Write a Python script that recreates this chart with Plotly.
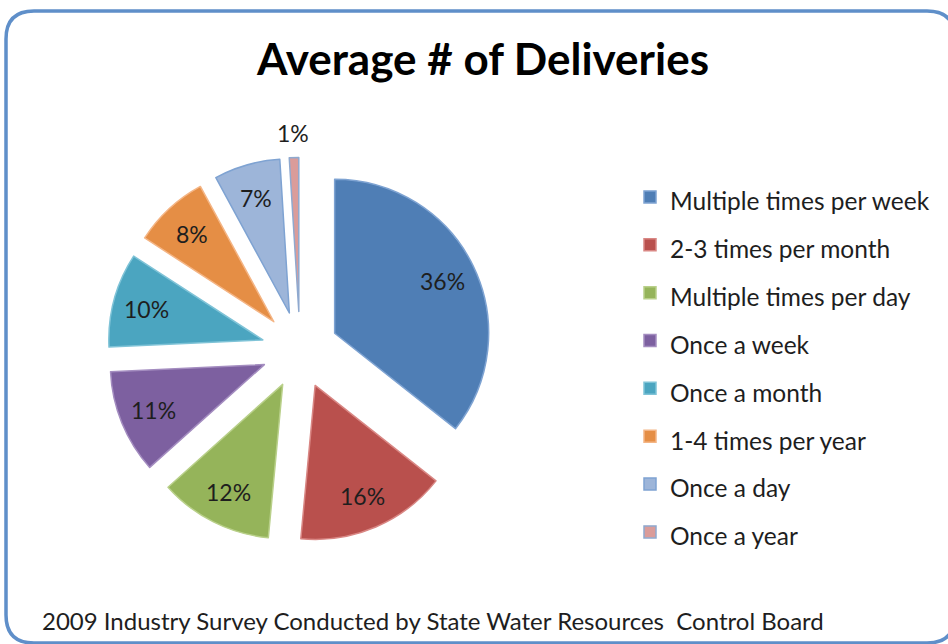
import math
import plotly.graph_objects as go

# Survey results: share of respondents per delivery frequency (percent)
categories = [
    "Multiple times per week",
    "2-3 times per month",
    "Multiple times per day",
    "Once a week",
    "Once a month",
    "1-4 times per year",
    "Once a day",
    "Once a year",
]
percents = [36, 16, 12, 11, 10, 8, 7, 1]

fill_colors = ["#4F7EB5", "#B9504D", "#95B45A", "#7D60A0", "#4BA5C0", "#E58E45", "#9DB5D9", "#DA9C9A"]
edge_colors = ["#7EA3D2", "#D98784", "#B9D08A", "#A48DC0", "#7FC3D7", "#F4B585", "#7FA3D2", "#8FA9CF"]

W, H = 948, 644
FONT = "Lato"
PULL = 0.25

# Pie box in pixels (square), the radius follows plotly's rule r = side / (2 + 2*pull)
BOX_L, BOX_R, BOX_T, BOX_B = 107.5, 492.5, 157.5, 542.5


def px(x):
    return x / W


def py(y):
    return 1 - y / H


fig = go.Figure()

fig.add_trace(go.Pie(
    labels=[f"<span style='font-size:24.5px'>{c}</span>" for c in categories],
    values=percents,
    sort=False,
    direction="clockwise",
    rotation=0,
    pull=PULL,
    textinfo="none",
    marker=dict(colors=fill_colors, line=dict(color=edge_colors, width=1.5)),
    domain=dict(x=[px(BOX_L), px(BOX_R)], y=[py(BOX_B), py(BOX_T)]),
    hovertext=categories,
    hoverinfo="text+percent",
    showlegend=True,
))

# Percentage labels placed along each slice's bisector
cx, cy = (BOX_L + BOX_R) / 2, (BOX_T + BOX_B) / 2
radius = (BOX_R - BOX_L) / (2 + 2 * PULL)
total = sum(percents)
cum = 0
for i, v in enumerate(percents):
    theta = math.radians((cum + v / 2) / total * 360)
    cum += v
    k = 1.16 if v < 3 else 0.78
    d = PULL * radius + k * radius
    lx = cx + d * math.sin(theta)
    ly = cy - d * math.cos(theta)
    fig.add_annotation(
        text=f"{v}%", xref="paper", yref="paper", x=px(lx), y=py(ly),
        xanchor="center", yanchor="middle", showarrow=False,
        font=dict(family=FONT, size=23, color="#1E1E1E"),
    )

# Rounded chart frame
x0, x1, y0, y1, r = 6, 955, 11, 643, 28
frame = (
    f"M {px(x0 + r)},{py(y0)} L {px(x1 - r)},{py(y0)} "
    f"Q {px(x1)},{py(y0)} {px(x1)},{py(y0 + r)} "
    f"L {px(x1)},{py(y1 - r)} Q {px(x1)},{py(y1)} {px(x1 - r)},{py(y1)} "
    f"L {px(x0 + r)},{py(y1)} Q {px(x0)},{py(y1)} {px(x0)},{py(y1 - r)} "
    f"L {px(x0)},{py(y0 + r)} Q {px(x0)},{py(y0)} {px(x0 + r)},{py(y0)} Z"
)
fig.add_shape(type="path", path=frame, xref="paper", yref="paper",
              line=dict(color="#5F8FC9", width=3.5), layer="above")

fig.add_annotation(
    text="2009 Industry Survey Conducted by State Water Resources  Control Board",
    xref="paper", yref="paper", x=px(40), y=py(620),
    xanchor="left", yanchor="middle", showarrow=False,
    font=dict(family=FONT, size=24, color="#1E1E1E"),
)

fig.update_layout(
    width=W, height=H,
    margin=dict(l=0, r=0, t=0, b=0),
    paper_bgcolor="white",
    plot_bgcolor="white",
    title=dict(
        text="<b>Average # of Deliveries</b>",
        x=px(483), y=py(60), xanchor="center", yanchor="middle",
        xref="paper", yref="paper",
        font=dict(family=FONT, size=44, color="#000000"),
    ),
    legend=dict(
        x=px(630), y=py(168), xanchor="left", yanchor="top",
        font=dict(family=FONT, size=34.5, color="#1E1E1E"),
        bgcolor="rgba(0,0,0,0)",
        traceorder="normal",
    ),
)

fig.write_html("out.html")
